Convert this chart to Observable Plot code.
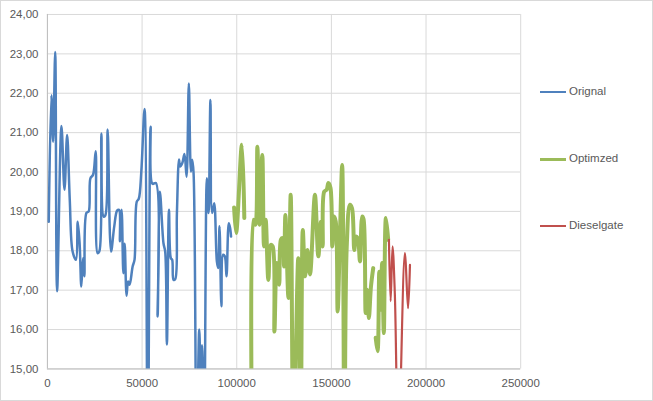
<!DOCTYPE html>
<html>
<head>
<meta charset="utf-8">
<script src="https://cdn.jsdelivr.net/npm/d3@7"></script>
<script src="https://cdn.jsdelivr.net/npm/@observablehq/plot@0.6"></script>
<style>
  html, body { margin: 0; padding: 0; background: #fff; }
  #wrap { position: relative; width: 651px; height: 399px; border: 1px solid #d9d9d9; overflow: hidden; }
  #chart { position: absolute; left: -1px; top: -1px; }
  .leg { position: absolute; font: 11.5px "Liberation Sans", Arial, sans-serif; color: #595959; }
  .leg span.sw { position: absolute; left: 0; width: 26px; }
  .leg span.tx { position: absolute; left: 29px; top: -7px; white-space: nowrap; }
</style>
</head>
<body>
<div id="wrap"><div id="chart"></div></div>
<script>
// ---- data (x = distance, y = value) ----
const seriesNames = ["Orignal", "Optimzed", "Dieselgate"];
const seriesColors = ["#4f81bd", "#9bbb59", "#c0504d"];

const origX = [700, 2100, 3000, 4100, 5100, 7400, 9000, 10400, 11800, 13300, 15100, 16000, 17000, 17900, 18800, 19500, 20600, 21800, 22700, 24100, 25500, 26500, 27400, 28500, 29700, 30600, 31800, 33600, 35300, 36800, 37800, 38300, 39200, 40100, 40800, 41800, 42600, 43400, 45000, 46000, 47200, 48250, 49600, 51300, 53000, 54500, 55500, 57300, 58200, 59400, 61300, 62200, 63100, 64200, 65200, 65900, 66600, 67500, 68400, 69500, 70100, 71200, 72400, 73500, 74700, 75800, 76500, 77200, 78800, 80200, 81000, 81700, 82800, 84200, 85100, 86100, 87000, 88100, 89500, 90200, 90900, 91900, 92800, 93700, 94600, 95800, 96500, 97000];
const origY = [18.74, 21.95, 20.77, 23.05, 16.97, 21.17, 19.55, 20.94, 19.29, 17.98, 17.77, 18.74, 18.19, 17.09, 17.81, 17.35, 18.96, 19.0, 19.84, 19.93, 20.53, 17.94, 17.98, 20.98, 18.87, 18.9, 21.08, 17.98, 18.62, 19.02, 19.04, 18.24, 19.04, 17.43, 18.18, 16.86, 17.22, 17.14, 17.6, 17.77, 19.25, 19.32, 20.02, 21.6, 12.5, 21.15, 19.7, 19.72, 16.33, 19.5, 18.19, 17.98, 15.62, 19.04, 17.81, 17.77, 17.26, 17.28, 18.96, 20.32, 20.14, 20.22, 20.46, 19.88, 22.25, 20.01, 20.31, 19.97, 13.0, 16.0, 14.6, 15.6, 13.5, 19.84, 18.96, 21.83, 18.96, 19.21, 17.73, 17.56, 18.62, 16.59, 17.9, 17.86, 17.35, 18.7, 18.58, 18.36];

const optX = [98600, 99700, 102700, 104000, 106000, 107900, 108800, 109900, 110900, 112000, 113500, 114400, 115300, 116700, 118000, 119000, 119900, 121100, 122400, 123300, 124100, 125000, 125700, 127300, 128500, 130000, 132500, 133800, 134900, 136100, 137300, 138700, 141300, 143100, 144500, 145400, 146200, 147500, 148400, 149500, 150500, 151400, 152300, 153300, 154500, 155700, 156900, 158100, 159800, 160900, 162100, 163000, 163900, 165100, 166300, 167000, 168100, 168900, 169800, 170900, 172100, 172800, 173400, 174400, 175300, 176100, 176800, 177700, 178800, 180000];
const optY = [19.1, 18.45, 20.69, 18.83, null, 14.0, 18.79, 18.66, 20.64, 18.66, 20.43, 18.11, 18.79, 17.26, 18.15, 18.11, 15.95, 17.69, 17.14, 18.28, 18.32, 17.6, 18.91, 16.8, 19.42, 13.0, 17.81, 13.5, 18.53, 17.35, 18.02, 17.4, 19.42, 17.86, 18.74, 18.11, 19.5, 19.55, 19.72, 19.6, 18.11, 18.87, 18.74, 16.46, 18.36, 20.18, 13.0, 18.1, 19.17, 19.08, 18.02, 18.36, 18.32, 17.73, 18.87, 18.8, 16.42, 17.01, 16.29, 17.09, 17.56, null, 15.79, 15.45, 17.47, 16.5, 17.69, 15.91, 18.83, 18.28];

const dieselX = [180400, 181300, 182300, 183500, 185400, 188800, 190500, 191500];
const dieselY = [18.28, 16.72, 18.11, 16.93, 13.0, 17.94, 16.54, 17.64];

const xTicks = [0, 50000, 100000, 150000, 200000, 250000];
const yTicks = [15, 16, 17, 18, 19, 20, 21, 22, 23, 24];

// ---- build ----
const toRows = (xs, ys) => xs.map((x, i) => ({x, y: ys[i]}));
const seriesRows = [toRows(origX, origY), toRows(optX, optY), toRows(dieselX, dieselY)];
const widths = [2.5, 4, 2.2];

const font = '"Liberation Sans", Arial, sans-serif';
const fmtY = d => d.toFixed(2).replace(".", ",");
const fmtX = d => String(d);
const chart = Plot.plot({
  width: 653,
  height: 401,
  marginLeft: 47,
  marginRight: 132,
  marginTop: 14,
  marginBottom: 32,
  style: {fontFamily: font, fontSize: "11.5px", color: "#595959", background: "transparent"},
  x: {domain: [0, 250000], label: null},
  y: {domain: [15, 24], label: null},
  marks: [
    Plot.gridY(yTicks, {stroke: "#d9d9d9", strokeOpacity: 1}),
    Plot.gridX(xTicks, {stroke: "#d9d9d9", strokeOpacity: 1}),
    Plot.ruleY([15], {stroke: "#bfbfbf"}),
    Plot.ruleX([0], {stroke: "#bfbfbf"}),
    Plot.axisY(yTicks, {tickSize: 0, tickPadding: 9, fill: "#595959", tickFormat: fmtY, label: null}),
    Plot.axisX(xTicks, {tickSize: 0, tickPadding: 10, fill: "#595959", tickFormat: fmtX, label: null}),
    ...seriesRows.map((rows, i) => Plot.line(rows, {x: "x", y: "y", stroke: seriesColors[i], strokeWidth: widths[i], clip: true, curve: "catmull-rom"}))
  ]
});
document.getElementById("chart").appendChild(chart);

// legend
const legendTops = [92, 159, 226];
const wrap = document.getElementById("wrap");
seriesNames.forEach((name, i) => {
  const d = document.createElement("div");
  d.className = "leg";
  d.style.left = "539px";
  d.style.top = (legendTops[i] - 1) + "px";
  const sw = document.createElement("span");
  sw.className = "sw";
  sw.style.borderTop = `${widths[i] === 4 ? 3 : 2}px solid ${seriesColors[i]}`;
  sw.style.top = (widths[i] === 4 ? -1.5 : -1) + "px";
  const tx = document.createElement("span");
  tx.className = "tx";
  tx.textContent = name;
  d.appendChild(sw); d.appendChild(tx);
  wrap.appendChild(d);
});
</script>
</body>
</html>
